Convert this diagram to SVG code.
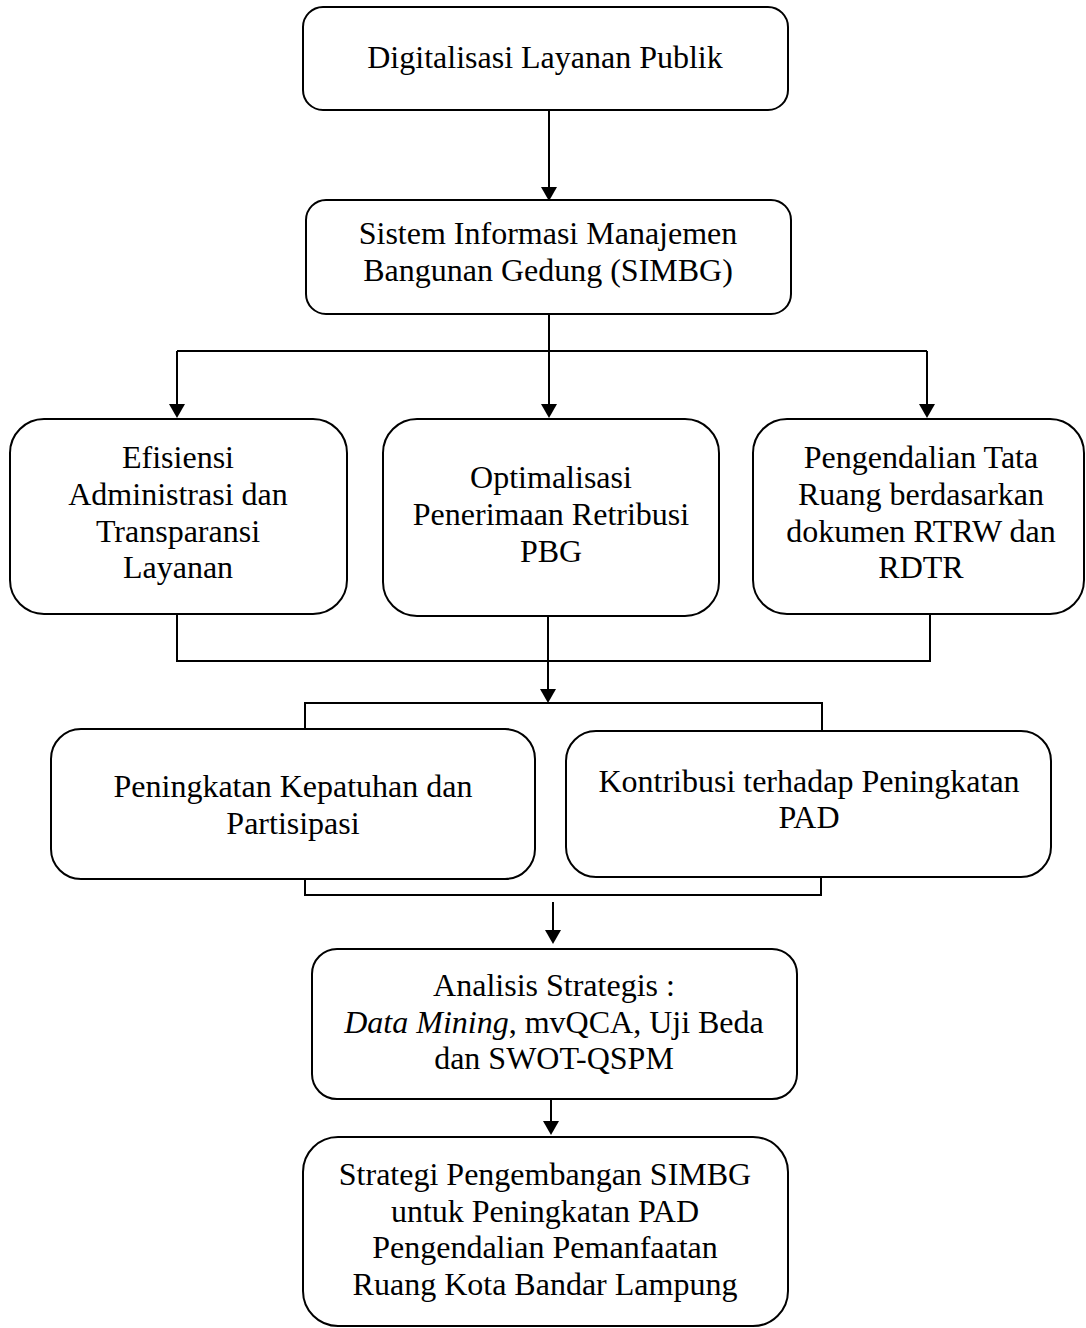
<svg xmlns="http://www.w3.org/2000/svg" width="1086" height="1328" viewBox="0 0 1086 1328">
<defs>
<style>
.box{fill:#fff;stroke:#000;stroke-width:2}
.t{font-family:'Liberation Serif','Times New Roman',Tinos,'Nimbus Roman',Times,serif;font-size:32px;fill:#000;text-anchor:middle}
.ln{fill:none;stroke:#000;stroke-width:2}
.ah{fill:#000}
</style>
</defs>
<rect width="1086" height="1328" fill="#fff"/>
<g id="connectors">
<line class="ln" x1="549" y1="110" x2="549" y2="190"/>
<path class="ln" d="M549,314 V351 M177,351 H927"/>
<line class="ln" x1="177" y1="351" x2="177" y2="408"/>
<line class="ln" x1="549" y1="351" x2="549" y2="408"/>
<line class="ln" x1="927" y1="351" x2="927" y2="408"/>
<path class="ln" d="M177,614 V661 H930 V614"/>
<line class="ln" x1="548" y1="616" x2="548" y2="692"/>
<path class="ln" d="M305,731 V703 H822 V731"/>
<path class="ln" d="M305,879 V895 H821 V877"/>
<line class="ln" x1="553" y1="902" x2="553" y2="934"/>
<line class="ln" x1="551" y1="1099" x2="551" y2="1125"/>
<path class="ah" d="M541,187 L557,187 L549,201 Z"/>
<path class="ah" d="M169,404 L185,404 L177,418 Z"/>
<path class="ah" d="M541,404 L557,404 L549,418 Z"/>
<path class="ah" d="M919,404 L935,404 L927,418 Z"/>
<path class="ah" d="M540,689 L556,689 L548,703 Z"/>
<path class="ah" d="M545,930 L561,930 L553,944 Z"/>
<path class="ah" d="M543,1121 L559,1121 L551,1135 Z"/>
</g>
<g id="n1">
<rect class="box" x="303" y="7" width="485" height="103" rx="20"/>
<text class="t" x="545" y="68">Digitalisasi Layanan Publik</text>
</g>
<g id="n2">
<rect class="box" x="306" y="200" width="485" height="114" rx="20"/>
<text class="t" x="548" y="244">Sistem Informasi Manajemen</text>
<text class="t" x="548" y="281">Bangunan Gedung (SIMBG)</text>
</g>
<g id="n3">
<rect class="box" x="10" y="419" width="337" height="195" rx="34"/>
<text class="t" x="178" y="468">Efisiensi</text>
<text class="t" x="178" y="505">Administrasi dan</text>
<text class="t" x="178" y="542">Transparansi</text>
<text class="t" x="178" y="578">Layanan</text>
</g>
<g id="n4">
<rect class="box" x="383" y="419" width="336" height="197" rx="34"/>
<text class="t" x="551" y="488">Optimalisasi</text>
<text class="t" x="551" y="525">Penerimaan Retribusi</text>
<text class="t" x="551" y="562">PBG</text>
</g>
<g id="n5">
<rect class="box" x="753" y="419" width="331" height="195" rx="34"/>
<text class="t" x="921" y="468">Pengendalian Tata</text>
<text class="t" x="921" y="505">Ruang berdasarkan</text>
<text class="t" x="921" y="542">dokumen RTRW dan</text>
<text class="t" x="921" y="578">RDTR</text>
</g>
<g id="n6">
<rect class="box" x="51" y="729" width="484" height="150" rx="30"/>
<text class="t" x="293" y="797">Peningkatan Kepatuhan dan</text>
<text class="t" x="293" y="834">Partisipasi</text>
</g>
<g id="n7">
<rect class="box" x="566" y="731" width="485" height="146" rx="30"/>
<text class="t" x="809" y="792">Kontribusi terhadap Peningkatan</text>
<text class="t" x="809" y="828">PAD</text>
</g>
<g id="n8">
<rect class="box" x="312" y="949" width="485" height="150" rx="25"/>
<text class="t" x="554" y="996">Analisis Strategis :</text>
<text class="t" x="554" y="1033"><tspan font-style="italic">Data Mining</tspan>, mvQCA, Uji Beda</text>
<text class="t" x="554" y="1069">dan SWOT-QSPM</text>
</g>
<g id="n9">
<rect class="box" x="303" y="1137" width="485" height="189" rx="35"/>
<text class="t" x="545" y="1185">Strategi Pengembangan SIMBG</text>
<text class="t" x="545" y="1222">untuk Peningkatan PAD</text>
<text class="t" x="545" y="1258">Pengendalian Pemanfaatan</text>
<text class="t" x="545" y="1295">Ruang Kota Bandar Lampung</text>
</g>
</svg>
